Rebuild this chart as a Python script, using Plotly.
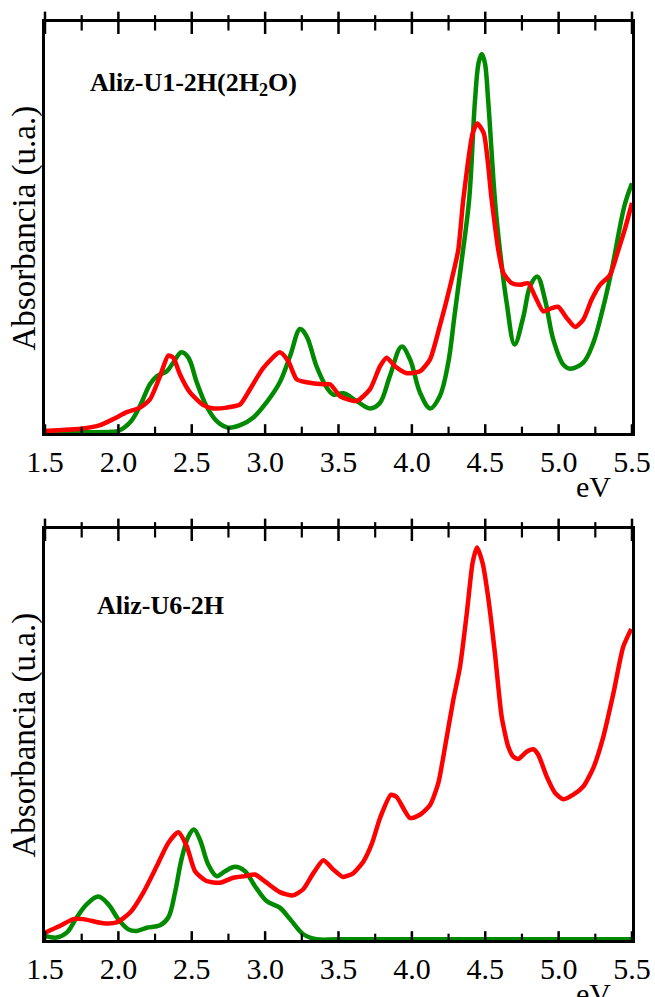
import plotly.graph_objects as go

# ---------------- data (arbitrary absorbance units, 0-100 = full panel) -------------
p1_green_x = [1.50, 1.80, 1.95, 2.00, 2.08, 2.147, 2.215, 2.26, 2.33, 2.374, 2.43, 2.477,
              2.534, 2.60, 2.67, 2.749, 2.83, 2.92, 3.01, 3.10, 3.17, 3.238, 3.283, 3.35,
              3.42, 3.465, 3.533, 3.624, 3.715, 3.783, 3.85, 3.93, 3.987, 4.055, 4.124,
              4.19, 4.248, 4.29, 4.34, 4.39, 4.43, 4.455, 4.476, 4.497, 4.52, 4.566, 4.60,
              4.646, 4.70, 4.76, 4.805, 4.855, 4.907, 4.964, 5.032, 5.078, 5.168, 5.236,
              5.305, 5.362, 5.45, 5.50]
p1_green_y = [0.0, 0.0, 0.1, 0.3, 2.4, 6.4, 11.7, 13.6, 14.9, 17.0, 19.5, 18.2,
              12.2, 6.4, 2.7, 1.1, 1.7, 3.6, 7.3, 12.2, 18.6, 25.2, 23.4, 16.1,
              10.9, 9.2, 9.5, 7.6, 5.8, 7.2, 13.7, 20.9, 17.8, 9.7, 5.8,
              8.8, 17.0, 28.3, 42.1, 56.7, 81.0, 90.3, 92.4, 90.3, 81.0, 56.7, 44.5,
              31.6, 21.4, 28.3, 35.6, 38.0, 32.4, 22.6, 16.5, 15.5, 17.0, 21.8,
              30.7, 39.7, 55.5, 60.8]

p1_red_x = [1.50, 1.76, 1.875, 1.966, 2.057, 2.147, 2.215, 2.284, 2.34, 2.374, 2.42, 2.488,
            2.58, 2.647, 2.738, 2.83, 2.897, 2.988, 3.10, 3.158, 3.215, 3.283, 3.397, 3.442,
            3.51, 3.533, 3.624, 3.715, 3.783, 3.828, 3.885, 3.965, 4.055, 4.124, 4.19,
            4.26, 4.316, 4.35, 4.414, 4.446, 4.49, 4.544, 4.589, 4.623, 4.68, 4.737,
            4.793, 4.839, 4.896, 4.953, 4.998, 5.055, 5.112, 5.168, 5.225, 5.282, 5.35,
            5.407, 5.45, 5.50]
p1_red_y = [0.3, 0.9, 1.7, 3.2, 4.9, 6.0, 8.0, 13.7, 18.7, 18.2, 14.1, 9.7,
            6.6, 5.8, 6.0, 6.8, 10.5, 15.7, 19.5, 17.3, 12.9, 12.2, 11.7, 11.7,
            8.8, 8.4, 7.6, 10.5, 16.1, 18.2, 16.1, 14.4, 14.9, 17.8, 25.9,
            35.6, 44.5, 56.7, 73.0, 75.4, 73.0, 56.7, 44.5, 38.9, 36.4, 36.0,
            36.4, 33.2, 29.5, 30.3, 30.6, 27.9, 25.7, 27.5, 32.4, 36.0, 38.4,
            44.5, 49.4, 56.0]

p2_green_x = [1.50, 1.58, 1.648, 1.716, 1.784, 1.863, 1.932, 1.999, 2.068, 2.125, 2.193,
              2.284, 2.34, 2.386, 2.43, 2.477, 2.515, 2.556, 2.613, 2.67, 2.727, 2.795,
              2.863, 2.93, 3.01, 3.10, 3.17, 3.26, 3.35, 3.50, 4.50, 5.50]
p2_green_y = [0.8, 0.4, 1.6, 5.3, 8.5, 10.4, 8.5, 4.9, 2.4, 2.0, 2.8,
              3.4, 5.3, 11.4, 19.5, 25.1, 26.8, 24.3, 18.2, 15.4, 16.6, 17.7,
              16.6, 13.0, 9.3, 7.7, 4.9, 1.2, 0.0, 0.0, 0.0, 0.0]

p2_red_x = [1.50, 1.60, 1.693, 1.761, 1.897, 1.988, 2.08, 2.17, 2.261, 2.34, 2.408, 2.466,
            2.522, 2.60, 2.693, 2.783, 2.863, 2.93, 3.01, 3.10, 3.19, 3.26, 3.33, 3.397,
            3.465, 3.53, 3.60, 3.67, 3.73, 3.783, 3.858, 3.897, 3.987, 4.055, 4.124,
            4.18, 4.226, 4.282, 4.328, 4.374, 4.414, 4.444, 4.483, 4.52, 4.566, 4.612,
            4.657, 4.691, 4.725, 4.782, 4.828, 4.862, 4.919, 4.976, 5.032, 5.10, 5.168,
            5.236, 5.305, 5.373, 5.44, 5.495]
p2_red_y = [1.6, 3.2, 4.9, 4.9, 3.9, 4.1, 6.5, 11.4, 17.8, 23.5, 26.1, 22.7,
            16.6, 14.2, 13.8, 15.0, 15.4, 15.8, 13.8, 11.5, 10.7, 12.2, 16.2, 19.3,
            17.0, 15.2, 16.1, 19.0, 23.6, 29.6, 35.3, 34.7, 29.6, 30.4, 32.8,
            38.1, 47.0, 58.4, 66.5, 79.5, 92.0, 95.7, 91.7, 83.5, 69.8, 54.3,
            47.0, 44.6, 44.0, 45.8, 46.4, 45.0, 39.7, 35.7, 34.2, 35.3, 37.3,
            41.8, 49.5, 60.0, 71.4, 75.8]

tick_vals = [1.5, 2.0, 2.5, 3.0, 3.5, 4.0, 4.5, 5.0, 5.5]
tick_text = ["1.5", "2.0", "2.5", "3.0", "3.5", "4.0", "4.5", "5.0", "5.5"]
minor_tick_vals = [1.75, 2.25, 2.75, 3.25, 3.75, 4.25, 4.75, 5.25]
panel_labels = ["Aliz-U1-2H(2H<sub>2</sub>O)", "Aliz-U6-2H"]
y_title = "Absorbancia (u.a.)"
x_unit = "eV"
Y_RANGE = [-0.2, 100.2]
Y_FRAME = [0, 100]

GREEN = "#008a00"
RED = "#ff0000"
FONT = "Liberation Serif"

fig = go.Figure()

def add_line(x, y, color, xa, ya, smooth):
    fig.add_trace(go.Scatter(x=x, y=y, mode="lines", xaxis=xa, yaxis=ya,
                             line=dict(color=color, width=4.5, shape="spline", smoothing=smooth),
                             showlegend=False, hoverinfo="skip"))

add_line(p1_green_x, p1_green_y, GREEN, "x", "y", 1.0)
add_line(p1_red_x, p1_red_y, RED, "x", "y", 0.6)
add_line(p2_green_x, p2_green_y, GREEN, "x2", "y2", 1.0)
add_line(p2_red_x, p2_red_y, RED, "x2", "y2", 0.6)

# tick marks crossing the top and bottom frame lines
span = Y_RANGE[1] - Y_RANGE[0]
for xa, ya in [("x", "y"), ("x2", "y2")]:
    for vals, size, w in [(tick_vals, 16, 2.5), (minor_tick_vals, 11, 2.2)]:
        # top frame: vertical-line markers
        fig.add_trace(go.Scatter(
            x=vals, y=[Y_FRAME[1]] * len(vals),
            mode="markers", xaxis=xa, yaxis=ya, cliponaxis=False,
            marker=dict(symbol="line-ns", size=size, color="black",
                        line=dict(color="black", width=w)),
            showlegend=False, hoverinfo="skip"))
        # bottom frame: symmetric error bars around the baseline
        fig.add_trace(go.Scatter(
            x=vals, y=[Y_FRAME[0]] * len(vals),
            mode="markers", xaxis=xa, yaxis=ya, cliponaxis=False,
            marker=dict(size=1, color="rgba(0,0,0,0)"),
            error_y=dict(type="constant", value=span * (size / 2) / 411, symmetric=True,
                         thickness=w, width=0, color="black"),
            showlegend=False, hoverinfo="skip"))

d1 = [0.5523, 1.0]
d2 = [0.0, 0.4477]

def xaxis_cfg(anchor):
    return dict(range=[1.5, 5.5], anchor=anchor, showline=True, linecolor="black", linewidth=3,
                mirror=True, ticks="", tickvals=tick_vals, ticktext=tick_text,
                ticklabelstandoff=0,
                tickfont=dict(family=FONT, size=30, color="black"),
                showgrid=False, zeroline=False)

def yaxis_cfg(domain):
    return dict(domain=domain, range=Y_RANGE, showline=True, linecolor="black", linewidth=3,
                mirror=True, ticks="", showticklabels=False, showgrid=False, zeroline=False)

fig.update_layout(
    template="none",
    width=655, height=997,
    margin=dict(l=45, r=23, t=22, b=57),
    paper_bgcolor="white", plot_bgcolor="white",
    xaxis=xaxis_cfg("y"), xaxis2=xaxis_cfg("y2"),
    yaxis=yaxis_cfg(d1), yaxis2=yaxis_cfg(d2),
)

fig.add_annotation(text="<b>" + panel_labels[0] + "</b>", xref="x domain", yref="y domain",
                   x=0.0733, y=0.849, xanchor="left", yanchor="middle", showarrow=False,
                   font=dict(family=FONT, size=26, color="black"))
fig.add_annotation(text="<b>" + panel_labels[1] + "</b>", xref="x2 domain", yref="y2 domain",
                   x=0.0852, y=0.8127, xanchor="left", yanchor="middle", showarrow=False,
                   font=dict(family=FONT, size=26, color="black"))
for xr, yr in [("x domain", "y domain"), ("x2 domain", "y2 domain")]:
    fig.add_annotation(text=y_title, xref=xr, yref=yr, x=-0.0341, y=0.5, textangle=-90,
                       xanchor="center", yanchor="middle", showarrow=False,
                       font=dict(family=FONT, size=33, color="black"))
    fig.add_annotation(text=x_unit, xref=xr, yref=yr, x=0.935, y=-0.13,
                       xanchor="center", yanchor="middle", showarrow=False,
                       font=dict(family=FONT, size=30, color="black"))

fig.write_html("out.html")
